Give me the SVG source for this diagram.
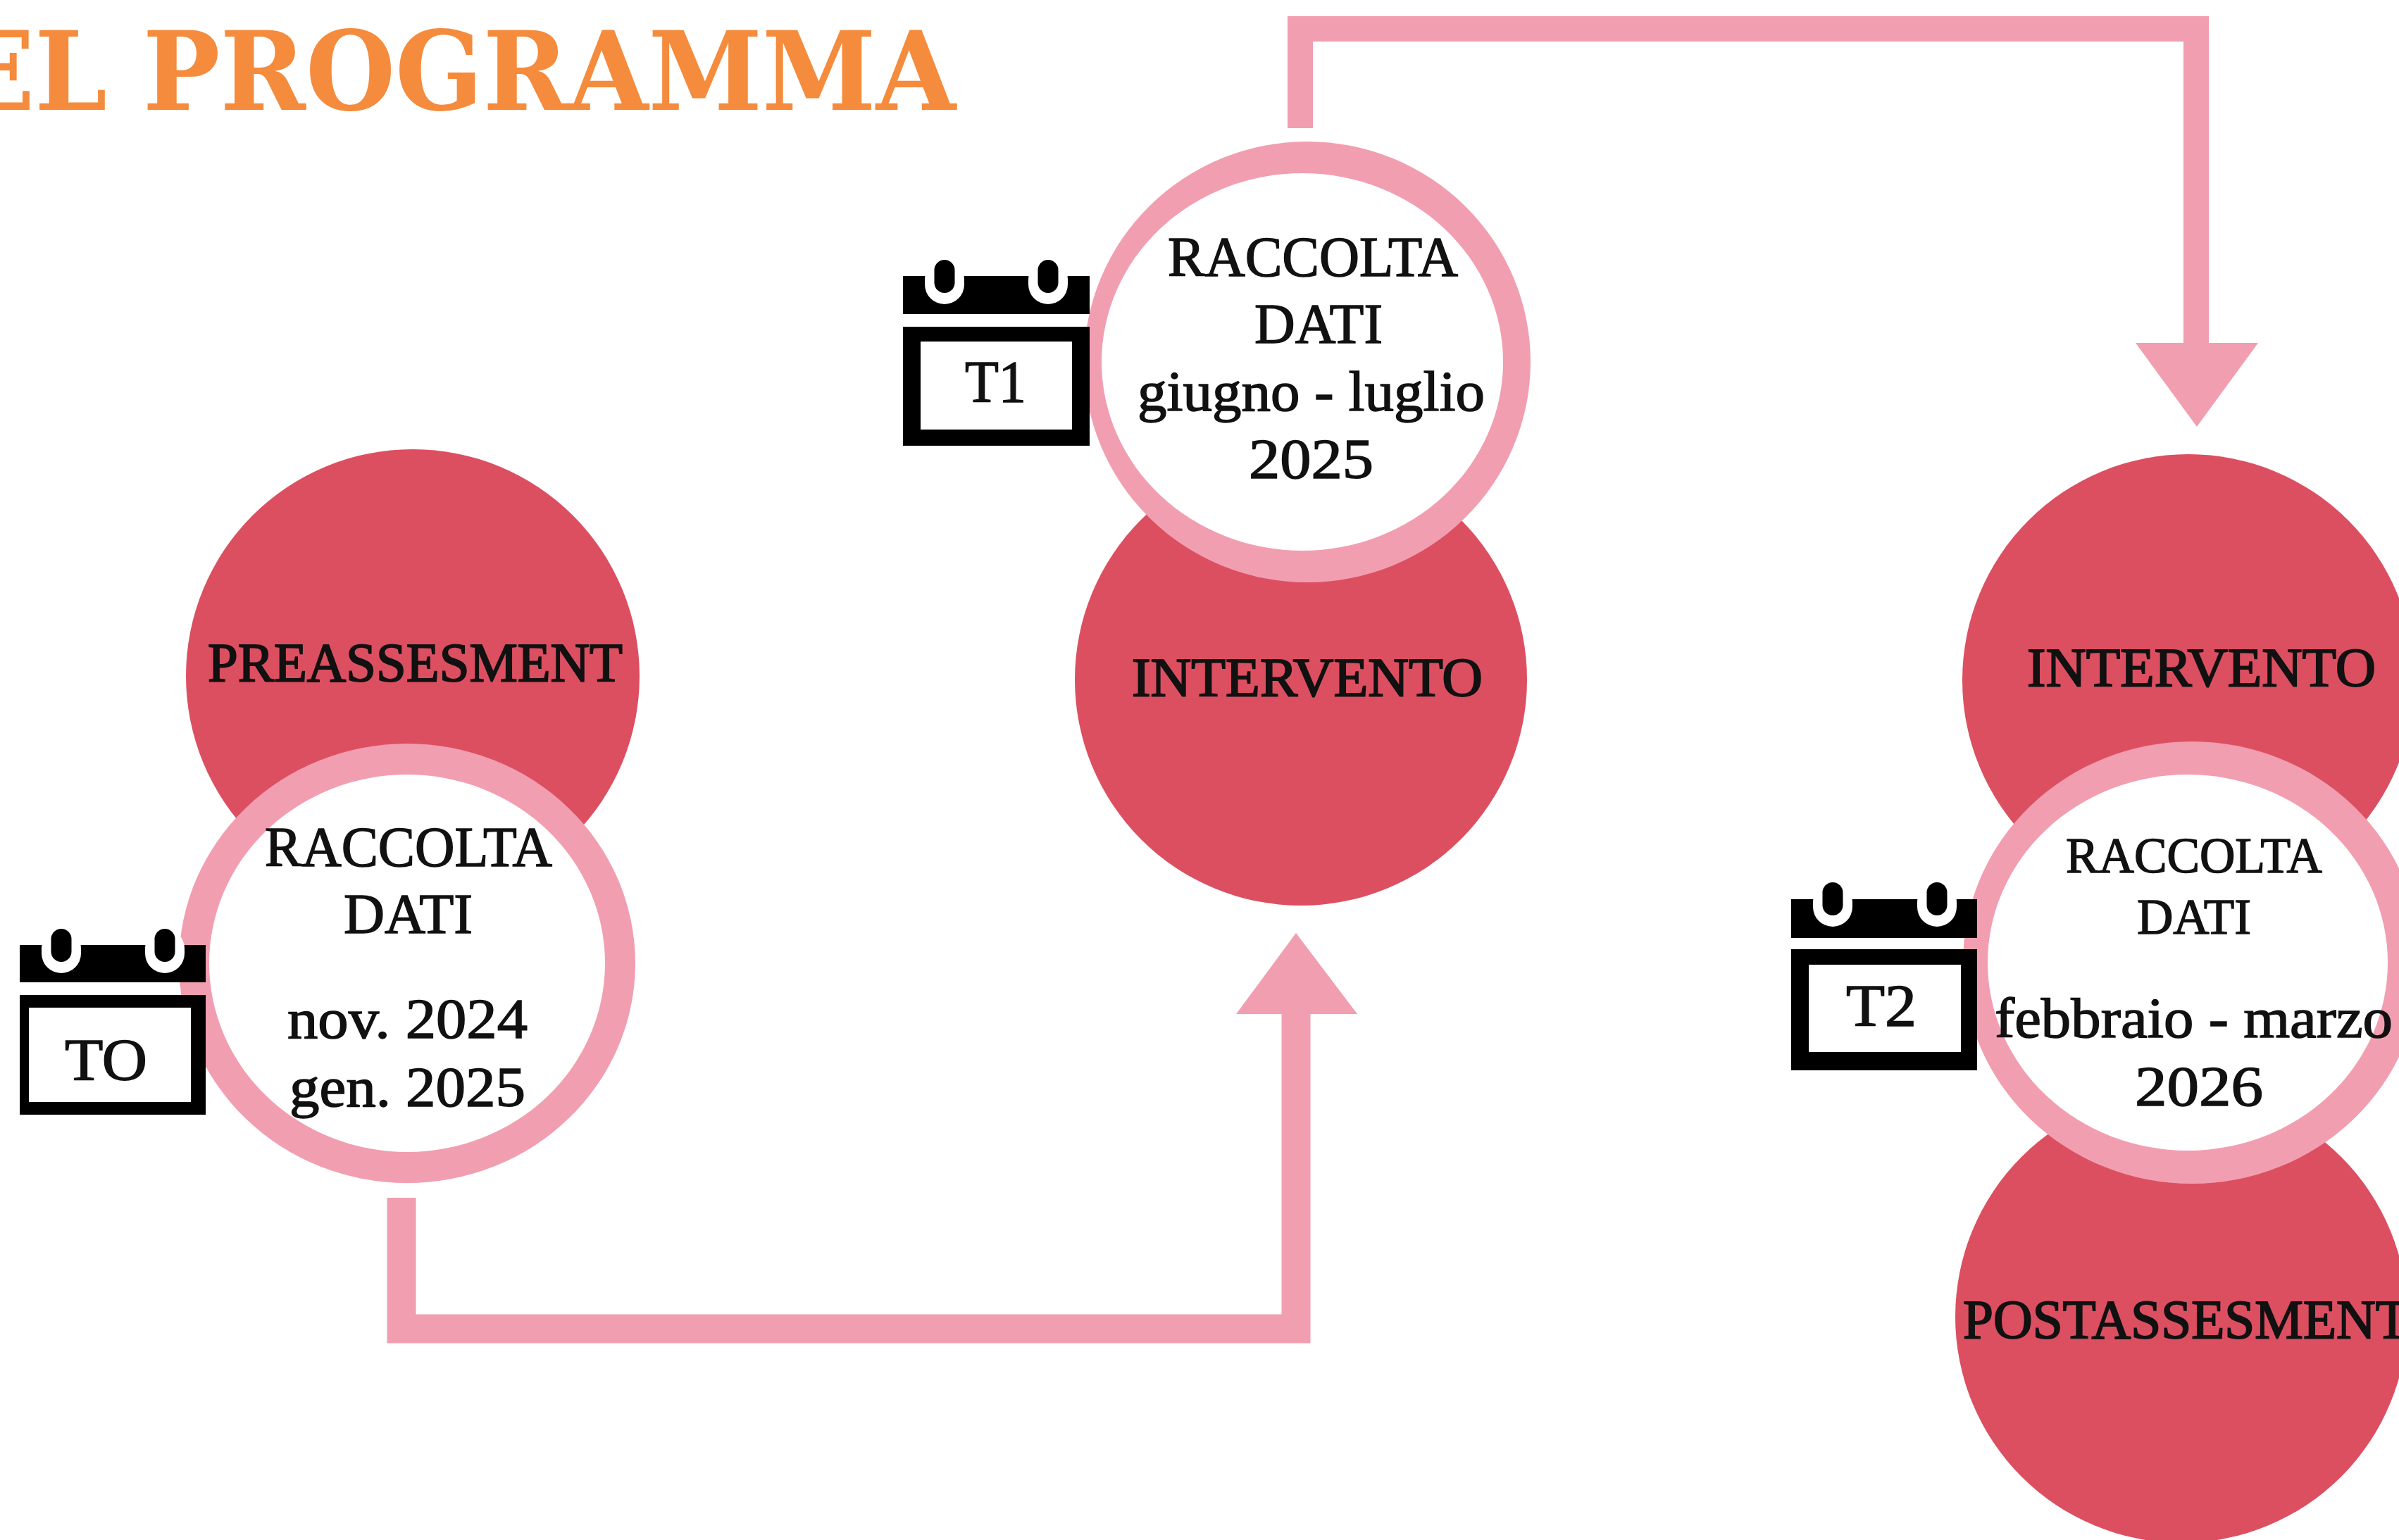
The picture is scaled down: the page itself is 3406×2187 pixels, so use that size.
<svg xmlns="http://www.w3.org/2000/svg" width="3406" height="2187" viewBox="0 0 3406 2187">
<defs>
<style>
text{font-family:"Liberation Serif","DejaVu Serif",serif;fill:#111;stroke:#111;stroke-width:1.500}
.t{font-size:80px}
.s{font-size:72px}
.c{font-size:84px}
.n{font-size:78px;stroke-width:2}
.title{font-family:"DejaVu Serif","Liberation Serif",serif;font-size:155px;font-weight:700;fill:#f58b3c;stroke:none}
.red{fill:#dc4f61}
.ring{fill:#f29eb1}
.hole{fill:#fff}
.line{fill:none;stroke:#f29eb1}
.head{fill:#f29eb1}
.k{fill:#000}
.w{fill:#fff}
</style>
<g id="ringclip">
<rect class="w" x="-28" y="0" width="56" height="63" rx="28"/>
<rect class="k" x="-14.500" y="0" width="29" height="47" rx="14.500"/>
</g>
</defs>
<rect width="3406" height="2187" fill="#fff"/>
<text class="title" x="-62" y="156" textLength="1419" lengthAdjust="spacingAndGlyphs">EL PROGRAMMA</text>

<g id="connectors">
<path class="line" stroke-width="41" d="M570 1701V1887H1840V1430"/>
<polygon class="head" points="1755,1440 1927,1440 1840,1325"/>
<path class="line" stroke-width="36" d="M1846 182V41H3118V495"/>
<polygon class="head" points="3032,487 3206,487 3119,606"/>
</g>

<g id="node-preassesment">
<circle class="red" cx="586" cy="960" r="322"/>
<text class="n" x="295" y="967" textLength="589" lengthAdjust="spacingAndGlyphs">PREASSESMENT</text>
</g>
<g id="node-intervento-1">
<circle class="red" cx="1847" cy="965" r="321"/>
<text class="n" x="1607" y="988" textLength="498" lengthAdjust="spacingAndGlyphs">INTERVENTO</text>
</g>
<g id="node-intervento-2">
<circle class="red" cx="3107" cy="966" r="321"/>
<text class="n" x="2878" y="974" textLength="495" lengthAdjust="spacingAndGlyphs">INTERVENTO</text>
</g>
<g id="node-postassesment">
<circle class="red" cx="3097" cy="1870" r="321"/>
<text class="n" x="2787" y="1900" textLength="633" lengthAdjust="spacingAndGlyphs">POSTASSESMENT</text>
</g>

<g id="node-raccolta-t0">
<ellipse class="ring" cx="578" cy="1368" rx="324" ry="312"/>
<ellipse class="hole" cx="578" cy="1368" rx="281" ry="268"/>
<text class="t" x="376" y="1230" textLength="408" lengthAdjust="spacingAndGlyphs">RACCOLTA</text>
<text class="t" x="488" y="1325" textLength="183" lengthAdjust="spacingAndGlyphs">DATI</text>
<text class="t" x="408" y="1474" textLength="341" lengthAdjust="spacingAndGlyphs">nov. 2024</text>
<text class="t" x="411" y="1571" textLength="335" lengthAdjust="spacingAndGlyphs">gen. 2025</text>
</g>
<g id="node-raccolta-t1">
<ellipse class="ring" cx="1856" cy="514" rx="317" ry="313"/>
<ellipse class="hole" cx="1849" cy="514" rx="285" ry="268"/>
<text class="t" x="1658" y="392" textLength="412" lengthAdjust="spacingAndGlyphs">RACCOLTA</text>
<text class="t" x="1781" y="487" textLength="182" lengthAdjust="spacingAndGlyphs">DATI</text>
<text class="t" x="1615" y="583" textLength="493" lengthAdjust="spacingAndGlyphs">giugno - luglio</text>
<text class="t" x="1773" y="679" textLength="177" lengthAdjust="spacingAndGlyphs">2025</text>
</g>
<g id="node-raccolta-t2">
<ellipse class="ring" cx="3112" cy="1367" rx="325" ry="314"/>
<ellipse class="hole" cx="3106" cy="1367" rx="284" ry="267"/>
<text class="s" x="2933" y="1239" textLength="364" lengthAdjust="spacingAndGlyphs">RACCOLTA</text>
<text class="s" x="3034" y="1326" textLength="162" lengthAdjust="spacingAndGlyphs">DATI</text>
<text class="t" x="2832" y="1473" textLength="565" lengthAdjust="spacingAndGlyphs">febbraio - marzo</text>
<text class="t" x="3031" y="1570" textLength="182" lengthAdjust="spacingAndGlyphs">2026</text>
</g>

<g id="calendar-t0">
<rect class="k" x="28" y="1342" width="264" height="53"/>
<rect class="k" x="28" y="1413" width="264" height="170"/>
<rect class="w" x="41" y="1431" width="230" height="134"/>
<use href="#ringclip" x="87" y="1319"/>
<use href="#ringclip" x="234" y="1319"/>
<text class="c" x="92" y="1534" textLength="117" lengthAdjust="spacingAndGlyphs">TO</text>
</g>
<g id="calendar-t1">
<rect class="k" x="1282" y="392" width="265" height="54"/>
<rect class="k" x="1282" y="464" width="265" height="169"/>
<rect class="w" x="1307" y="485" width="215" height="125"/>
<use href="#ringclip" x="1341" y="369"/>
<use href="#ringclip" x="1488" y="369"/>
<text class="c" x="1370" y="571" textLength="87" lengthAdjust="spacingAndGlyphs">T1</text>
</g>
<g id="calendar-t2">
<rect class="k" x="2543" y="1277" width="264" height="55"/>
<rect class="k" x="2543" y="1348" width="264" height="172"/>
<rect class="w" x="2568" y="1370" width="216" height="124"/>
<use href="#ringclip" x="2602" y="1253"/>
<use href="#ringclip" x="2750" y="1253"/>
<text class="c" x="2621" y="1457" textLength="100" lengthAdjust="spacingAndGlyphs">T2</text>
</g>
</svg>
